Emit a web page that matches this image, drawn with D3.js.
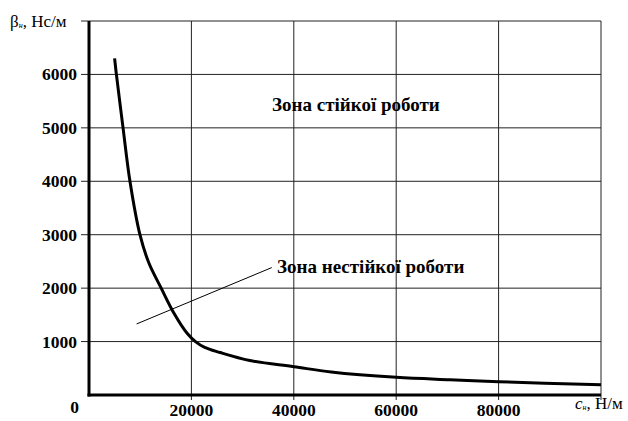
<!DOCTYPE html>
<html>
<head>
<meta charset="utf-8">
<script src="https://cdn.jsdelivr.net/npm/d3@7"></script>
<style>
  html, body { margin: 0; padding: 0; background: #fff; }
  svg { display: block; }
</style>
</head>
<body>
<svg id="chart" width="628" height="421" font-family="'Liberation Serif', 'Times New Roman', Times, serif"></svg>
<script>
// Stiffness c_n (N/m) and the boundary damping β_n (N·s/m) of stable operation
const stiffness = [5000, 5350, 6650, 8000, 9950, 11700, 14100, 16600, 19200, 20800, 22600, 25600, 31400, 40000, 47300, 60000, 70500, 80000, 100000];
const damping   = [6300, 6000, 5000, 4000, 3000, 2470, 2000, 1530, 1150, 1000, 890, 795, 645, 530, 430, 330, 285, 250, 190];

const xTicks = [20000, 40000, 60000, 80000];
const yTicks = [1000, 2000, 3000, 4000, 5000, 6000];

const xTitle = { sym: "c", sub: "н", rest: ", Н/м" };
const yTitle = { sym: "β", sub: "н", rest: ", Нс/м" };
const zoneStable = "Зона стійкої роботи";
const zoneUnstable = "Зона нестійкої роботи";

const svg = d3.select("#chart");
const plotLeft = 89, plotRight = 601, plotTop = 21, plotBottom = 395;

const x = d3.scaleLinear().domain([0, 100000]).range([plotLeft, plotRight]);
const y = d3.scaleLinear().domain([0, 7000]).range([plotBottom, plotTop]);

// grid
const grid = svg.append("g").attr("stroke", "#222").attr("stroke-width", 1);
[...xTicks, 100000].forEach(v => {
  grid.append("line").attr("x1", x(v)).attr("x2", x(v)).attr("y1", y(7000)).attr("y2", plotBottom + 5);
});
[...yTicks, 7000].forEach(v => {
  grid.append("line").attr("x1", plotLeft - 8).attr("x2", x(100000)).attr("y1", y(v)).attr("y2", y(v));
});

// axes
svg.append("line").attr("x1", plotLeft).attr("x2", plotLeft).attr("y1", y(7000)).attr("y2", plotBottom + 1.5)
  .attr("stroke", "#000").attr("stroke-width", 3);
svg.append("line").attr("x1", plotLeft - 1.5).attr("x2", x(100000)).attr("y1", plotBottom).attr("y2", plotBottom)
  .attr("stroke", "#000").attr("stroke-width", 3);

// tick labels
svg.append("g").selectAll("text").data(yTicks).join("text")
  .attr("x", 77).attr("y", d => y(d)).attr("dy", "0.34em")
  .attr("text-anchor", "end").attr("font-size", 17.5).attr("font-weight", "bold")
  .text(d => d);
svg.append("text").attr("x", 74.5).attr("y", 413)
  .attr("text-anchor", "middle").attr("font-size", 17.5).attr("font-weight", "bold").text(0);
svg.append("g").selectAll("text").data(xTicks).join("text")
  .attr("x", d => x(d)).attr("y", 416)
  .attr("text-anchor", "middle").attr("font-size", 17.5).attr("font-weight", "bold")
  .text(d => d);

// axis titles
const yt = svg.append("text").attr("x", 10).attr("y", 26.5).attr("font-size", 17);
yt.append("tspan").text(yTitle.sym);
yt.append("tspan").attr("font-size", 8).attr("font-style", "italic").attr("dy", 1).text(yTitle.sub);
yt.append("tspan").attr("dy", -1).text(yTitle.rest);

const xt = svg.append("text").attr("x", 575).attr("y", 409).attr("font-size", 17);
xt.append("tspan").attr("font-style", "italic").text(xTitle.sym);
xt.append("tspan").attr("font-size", 8).attr("font-style", "italic").attr("dy", 1).text(xTitle.sub);
xt.append("tspan").attr("dy", -1).text(xTitle.rest);

// boundary curve
const line = d3.line().x((d, i) => x(stiffness[i])).y(d => y(d)).curve(d3.curveCatmullRom.alpha(0.5));
svg.append("path").datum(damping).attr("d", line)
  .attr("fill", "none").attr("stroke", "#000").attr("stroke-width", 3).attr("stroke-linejoin", "round");

// zone labels
svg.append("text").attr("x", 272).attr("y", 111)
  .attr("font-size", 19).attr("font-weight", "bold").text(zoneStable);
svg.append("text").attr("x", 277).attr("y", 273)
  .attr("font-size", 19).attr("font-weight", "bold").text(zoneUnstable);
svg.append("line")
  .attr("x1", x(9300)).attr("y1", y(1330)).attr("x2", x(35700)).attr("y2", y(2385))
  .attr("stroke", "#000").attr("stroke-width", 1);
</script>
</body>
</html>
